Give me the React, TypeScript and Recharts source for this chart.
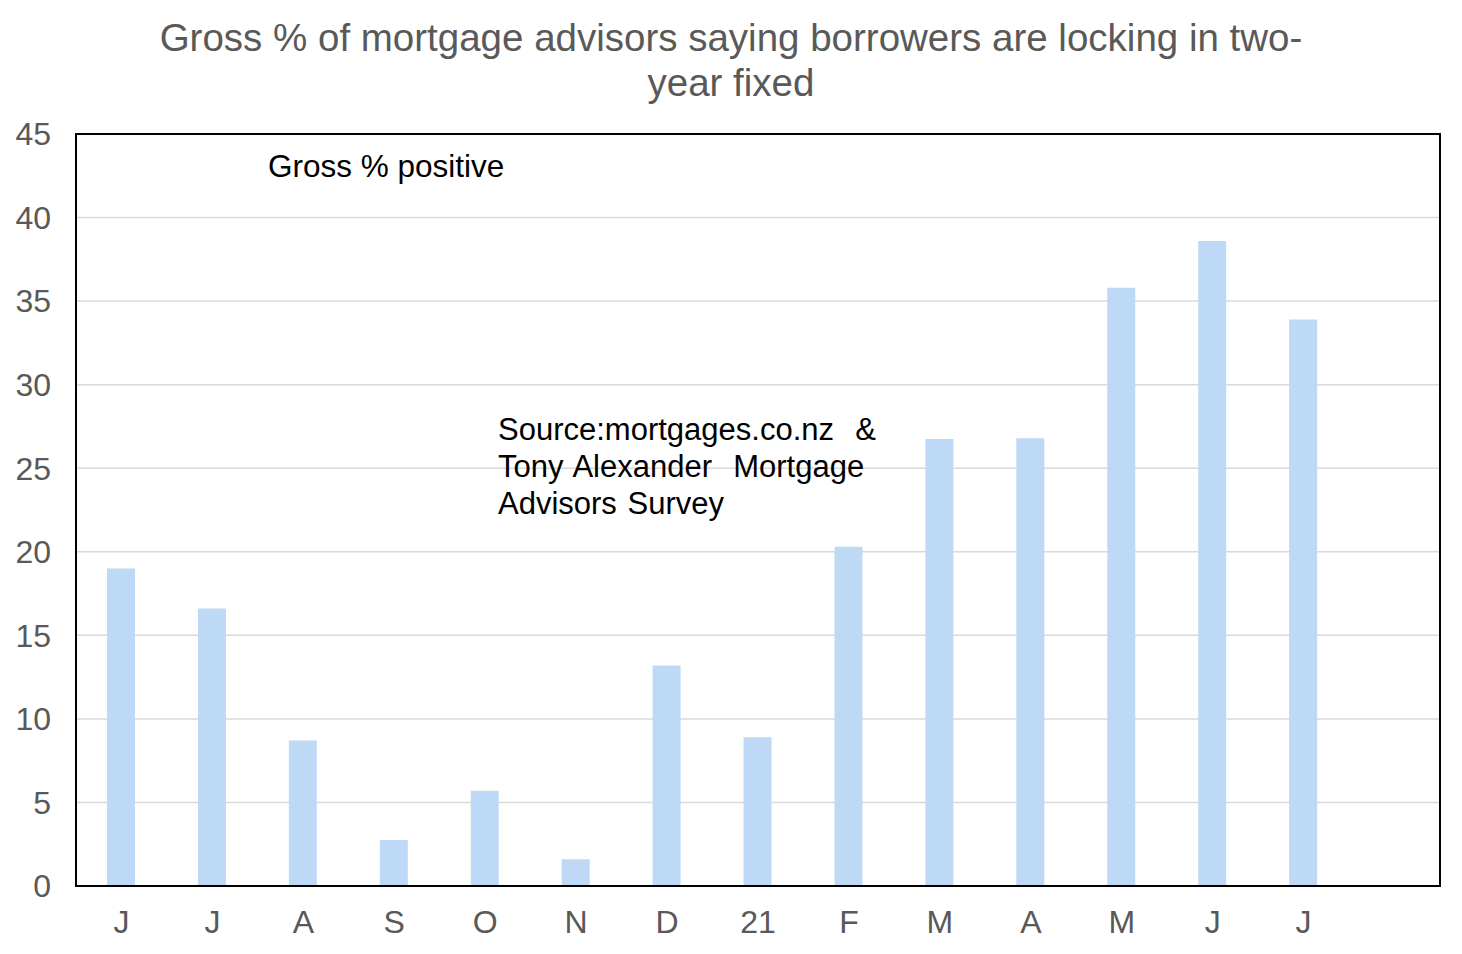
import { BarChart, Bar, XAxis, YAxis, CartesianGrid, ReferenceArea } from 'recharts';

const MONTHS = ['J', 'J', 'A', 'S', 'O', 'N', 'D', '21', 'F', 'M', 'A', 'M', 'J', 'J', ''];
const GROSS_POSITIVE = [19.0, 16.6, 8.7, 2.75, 5.7, 1.6, 13.2, 8.9, 20.3, 26.75, 26.8, 35.8, 38.6, 33.9, null];
const Y_TICKS = [0, 5, 10, 15, 20, 25, 30, 35, 40, 45];

const FONT = '"Liberation Sans", Arial, sans-serif';
const GREY = '#595959';

export default function App() {
    const data = MONTHS.map((m, i) => ({ month: m, value: GROSS_POSITIVE[i] }));

    return (
        <div style={{ position: 'absolute', left: 0, top: 0, width: 1462, height: 954, background: '#fff', fontFamily: FONT }}>
            <div
                style={{
                    position: 'absolute',
                    left: 0,
                    width: 1462,
                    top: 15,
                    textAlign: 'center',
                    color: GREY,
                    fontSize: 38.5,
                    lineHeight: '45px',
                }}
            >
                Gross % of mortgage advisors saying borrowers are locking in two-
                <br />
                year fixed
            </div>
            <BarChart width={1462} height={954} data={data} margin={{ top: 134, right: 22, bottom: 28, left: 16 }}>
                <CartesianGrid vertical={false} stroke="#d9d9d9" strokeWidth={1.5} />
                <XAxis
                    dataKey="month"
                    interval={0}
                    tickLine={false}
                    axisLine={{ stroke: '#000', strokeWidth: 2 }}
                    tick={{ fill: GREY, fontSize: 32, fontFamily: FONT }}
                    tickMargin={18}
                    height={40}
                />
                <YAxis
                    domain={[0, 45]}
                    ticks={Y_TICKS}
                    interval={0}
                    tickLine={false}
                    axisLine={{ stroke: '#000', strokeWidth: 2 }}
                    tick={{ fill: GREY, fontSize: 32, fontFamily: FONT }}
                    tickMargin={19}
                    width={60}
                />
                <Bar dataKey="value" fill="#bdd9f5" barSize={28} isAnimationActive={false} />
                <ReferenceArea y1={0} y2={45} fill="none" stroke="#000" strokeWidth={2} />
            </BarChart>
            <div style={{ position: 'absolute', left: 268, top: 148, fontSize: 31.5, color: '#000' }}>Gross % positive</div>
            <div style={{ position: 'absolute', left: 498, top: 411, fontSize: 31, color: '#000', lineHeight: '37px', wordSpacing: 2 }}>
                Source:mortgages.co.nz &nbsp;&amp;
                <br />
                Tony Alexander &nbsp;Mortgage
                <br />
                Advisors Survey
            </div>
        </div>
    );
}
